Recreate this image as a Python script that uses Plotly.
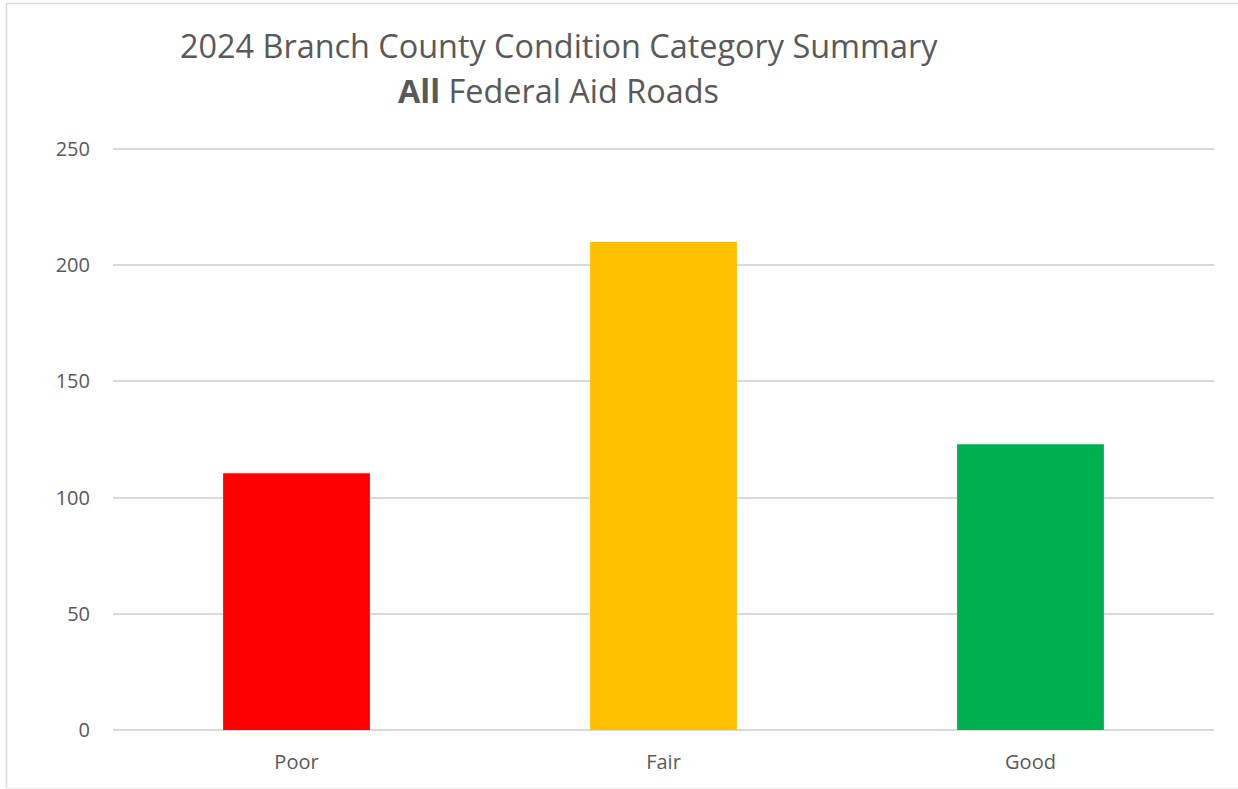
import plotly.graph_objects as go

categories = ["Poor", "Fair", "Good"]
values = [110.5, 210, 123]
colors = ["#FF0000", "#FFC000", "#00B050"]
title_line1 = "2024 Branch County Condition Category Summary"
title_line2 = "<b>All</b> Federal Aid Roads"
y_ticks = [0, 50, 100, 150, 200, 250]

W, H = 1238, 789
L, R, T, B = 113, 24, 147, 59
pw, ph = W - L - R, H - T - B
unit_px = 581 / 250.0
y_top = ph / unit_px

def px(x):
    return (x - L) / pw

def py(y):
    return (H - B - y) / ph

fig = go.Figure(go.Bar(x=categories, y=values, marker_color=colors,
                       marker_line_width=0, width=0.4))

font = "Open Sans"
grey = "#595959"

fig.update_layout(
    width=W, height=H,
    margin=dict(l=L, r=R, t=T, b=B),
    plot_bgcolor="white", paper_bgcolor="white",
    showlegend=False,
    font=dict(family=font, color=grey),
    xaxis=dict(showgrid=False, showline=False, ticks="",
               tickfont=dict(size=20, color=grey, family=font),
               ticklabelstandoff=18),
    yaxis=dict(range=[0, y_top], tickvals=y_ticks, showgrid=True,
               gridcolor="#D9D9D9", gridwidth=1.5, zeroline=True,
               zerolinecolor="#D9D9D9", zerolinewidth=1.5, showline=False,
               ticks="", tickfont=dict(size=20, color=grey, family=font),
               ticklabelstandoff=22),
    annotations=[
        dict(text=title_line1, x=px(558.5), y=py(45), xref="paper", yref="paper",
             xanchor="center", yanchor="middle", showarrow=False,
             font=dict(size=32.4, color=grey, family=font)),
        dict(text=title_line2, x=px(558.5), y=py(90), xref="paper", yref="paper",
             xanchor="center", yanchor="middle", showarrow=False,
             font=dict(size=32.4, color=grey, family=font)),
    ],
    shapes=[
        dict(type="line", xref="paper", yref="paper", x0=px(6.5), x1=px(1240),
             y0=py(3.5), y1=py(3.5), line=dict(color="#D9D9D9", width=1.5)),
        dict(type="line", xref="paper", yref="paper", x0=px(6.5), x1=px(6.5),
             y0=py(3.5), y1=py(788), line=dict(color="#D9D9D9", width=1.5)),
        dict(type="line", xref="paper", yref="paper", x0=px(6.5), x1=px(1240),
             y0=py(788), y1=py(788), line=dict(color="#EEEEEE", width=1)),
    ],
)

fig.write_html("out.html", config={"displayModeBar": False},
               post_script="document.body.style.margin='0';document.body.style.padding='0';")
